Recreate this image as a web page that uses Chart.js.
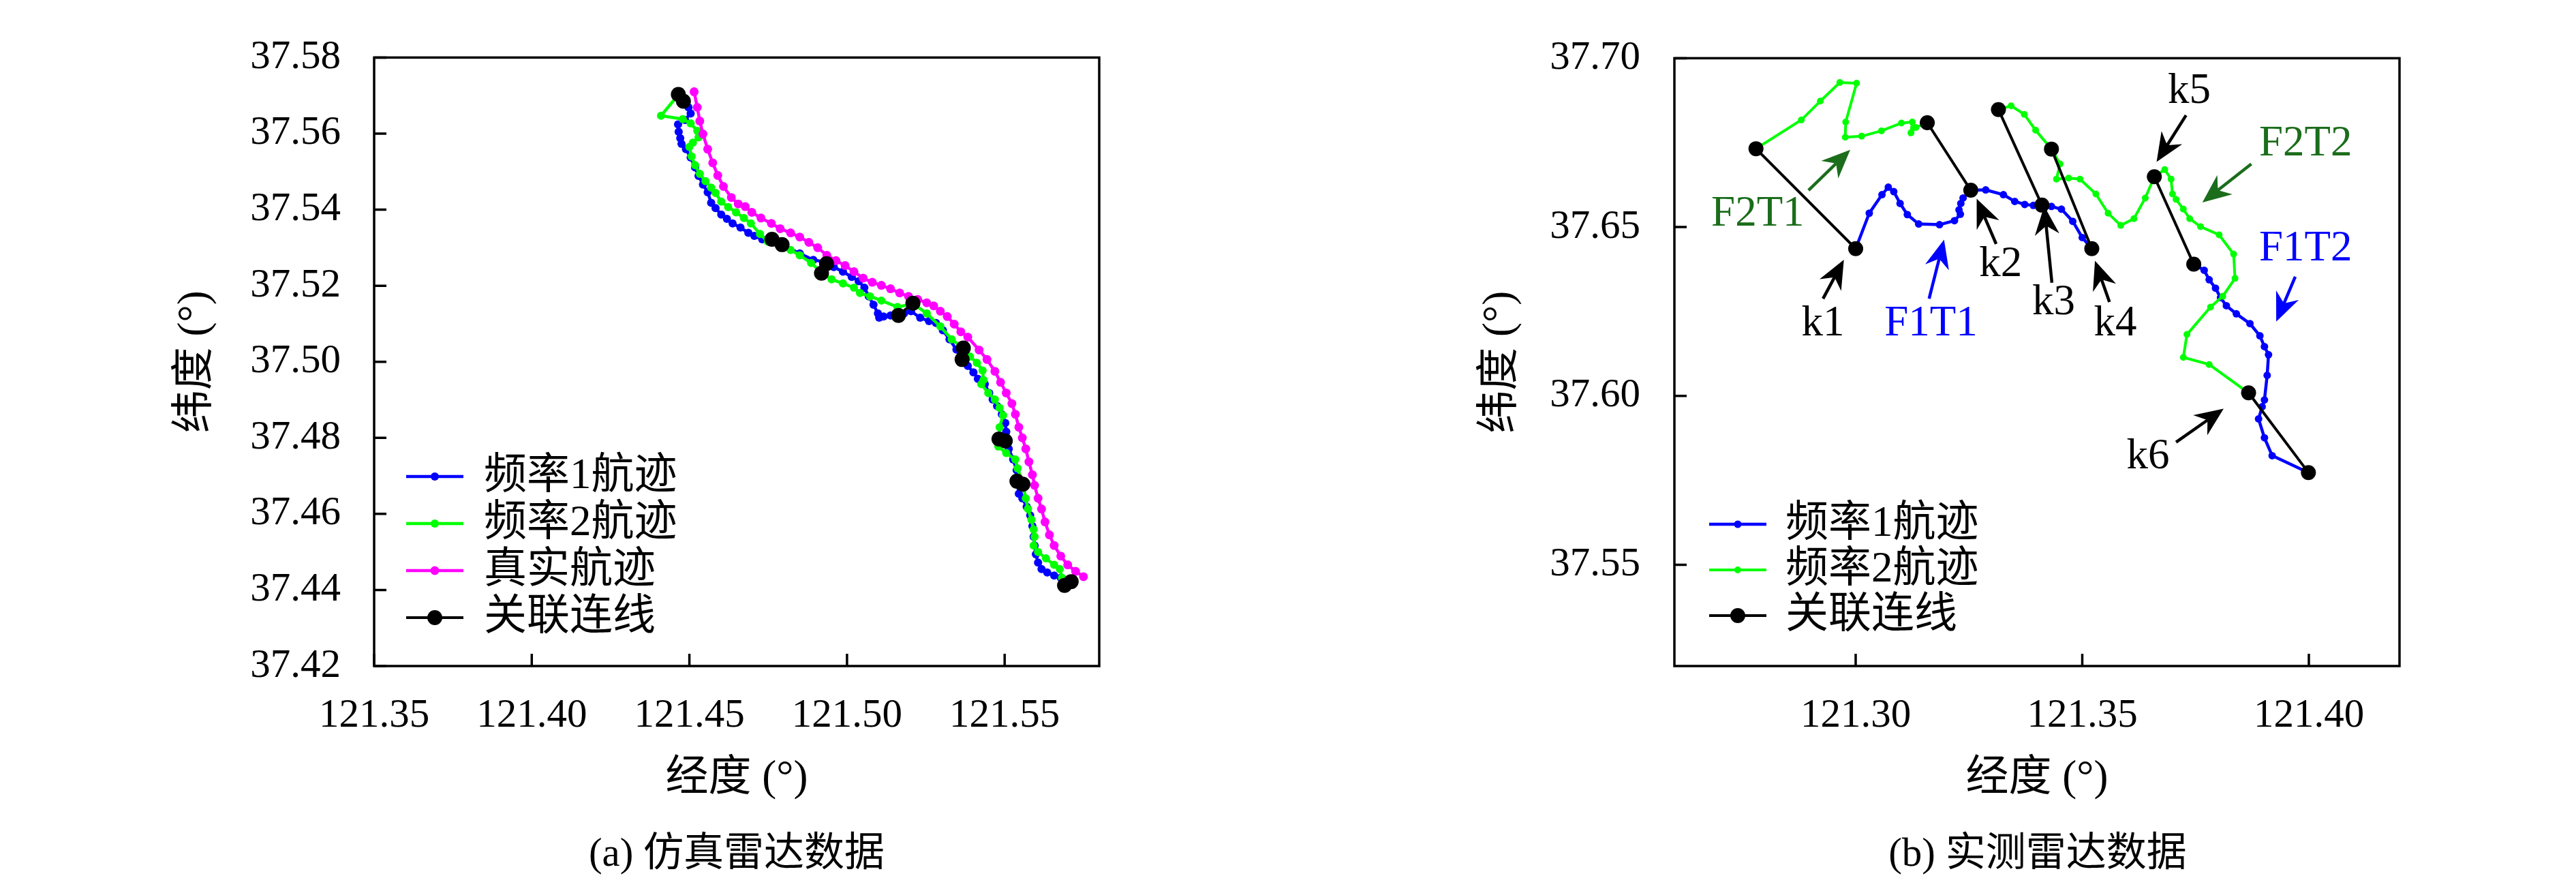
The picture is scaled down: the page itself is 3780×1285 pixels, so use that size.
<!DOCTYPE html>
<html>
<head>
<meta charset="utf-8">
<script src="https://cdn.jsdelivr.net/npm/chart.js@4.4.1/dist/chart.umd.min.js"></script>
<style>
  html, body { margin: 0; padding: 0; background: #fff; }
  #page { position: relative; width: 3780px; height: 1285px; background: #fff; overflow: hidden; }
  .box { position: absolute; top: 0; width: 1890px; height: 1200px; }
  .cap { position: absolute; top: 1205px; width: 900px; height: 90px; line-height: 90px; text-align: center;
         font-size: 59px; font-family: 'Liberation Serif', 'Noto Sans CJK SC', serif; color: #000; }
</style>
</head>
<body>
<div id="page">
  <div class="box" style="left:0"><canvas id="simChart"></canvas></div>
  <div class="box" style="left:1890px"><canvas id="realChart"></canvas></div>
  <div class="cap" style="left:631px">(a) 仿真雷达数据</div>
  <div class="cap" style="left:2540px">(b) 实测雷达数据</div>
</div>
<script>
// ---- (a) simulated radar data ----
const xTicksA = [121.35, 121.40, 121.45, 121.50, 121.55];
const yTicksA = [37.42, 37.44, 37.46, 37.48, 37.50, 37.52, 37.54, 37.56, 37.58];

const lonTrueA = [121.4515, 121.4525, 121.4533, 121.4543, 121.4558, 121.4574, 121.4590, 121.4608, 121.4633, 121.4655,
  121.4677, 121.4698, 121.4727, 121.4760, 121.4788, 121.4821, 121.4850, 121.4879, 121.4907, 121.4936,
  121.4965, 121.4994, 121.5022, 121.5051, 121.5080, 121.5109, 121.5138, 121.5167, 121.5195, 121.5224,
  121.5253, 121.5275, 121.5296, 121.5318, 121.5340, 121.5361, 121.5383, 121.5419, 121.5444, 121.5469,
  121.5487, 121.5505, 121.5523, 121.5534, 121.5545, 121.5556, 121.5567, 121.5577, 121.5588, 121.5595,
  121.5606, 121.5617, 121.5628, 121.5642, 121.5657, 121.5678, 121.5700, 121.5725, 121.5750];
const latTrueA = [37.5710, 37.5669, 37.5633, 37.5599, 37.5559, 37.5523, 37.5490, 37.5461, 37.5432, 37.5415,
  37.5408, 37.5393, 37.5378, 37.5364, 37.5350, 37.5339, 37.5328, 37.5314, 37.5300, 37.5280,
  37.5266, 37.5253, 37.5237, 37.5220, 37.5209, 37.5201, 37.5192, 37.5181, 37.5172, 37.5164,
  37.5155, 37.5147, 37.5133, 37.5119, 37.5099, 37.5079, 37.5065, 37.5031, 37.5006, 37.4975,
  37.4946, 37.4918, 37.4890, 37.4862, 37.4828, 37.4800, 37.4771, 37.4737, 37.4703, 37.4675,
  37.4641, 37.4613, 37.4579, 37.4545, 37.4517, 37.4489, 37.4466, 37.4449, 37.4435];

const lonF1A = [121.4481, 121.4497, 121.4504, 121.4486, 121.4464, 121.4466, 121.4471, 121.4475, 121.4489, 121.4504,
  121.4518, 121.4529, 121.4543, 121.4558, 121.4569, 121.4583, 121.4601, 121.4619, 121.4637, 121.4662,
  121.4687, 121.4706, 121.4731, 121.4762, 121.4792, 121.4850, 121.4893, 121.4933, 121.4958, 121.4987,
  121.5015, 121.5037, 121.5055, 121.5069, 121.5084, 121.5098, 121.5102, 121.5116, 121.5138, 121.5163,
  121.5181, 121.5203, 121.5232, 121.5260, 121.5282, 121.5304, 121.5325, 121.5347, 121.5365, 121.5383,
  121.5401, 121.5415, 121.5437, 121.5451, 121.5462, 121.5476, 121.5491, 121.5502, 121.5505, 121.5502,
  121.5513, 121.5527, 121.5538, 121.5539, 121.5545, 121.5556, 121.5570, 121.5581, 121.5588, 121.5592,
  121.5595, 121.5599, 121.5606, 121.5617, 121.5635, 121.5657, 121.5678, 121.5700];
const latF1A = [37.5684, 37.5669, 37.5653, 37.5636, 37.5624, 37.5605, 37.5588, 37.5573, 37.5559, 37.5537,
  37.5511, 37.5489, 37.5466, 37.5446, 37.5418, 37.5404, 37.5387, 37.5376, 37.5364, 37.5353,
  37.5339, 37.5331, 37.5322, 37.5322, 37.5308, 37.5285, 37.5268, 37.5262, 37.5249, 37.5237,
  37.5223, 37.5212, 37.5195, 37.5172, 37.5150, 37.5127, 37.5116, 37.5119, 37.5122, 37.5122,
  37.5127, 37.5133, 37.5116, 37.5107, 37.5102, 37.5083, 37.5059, 37.5032, 37.5006, 37.4989,
  37.4972, 37.4955, 37.4941, 37.4918, 37.4901, 37.4884, 37.4862, 37.4839, 37.4816, 37.4792,
  37.4771, 37.4743, 37.4715, 37.4686, 37.4653, 37.4641, 37.4619, 37.4596, 37.4568, 37.4540,
  37.4517, 37.4494, 37.4472, 37.4455, 37.4446, 37.4438, 37.4432, 37.4418];

const lonF2A = [121.4466, 121.4410, 121.4479, 121.4504, 121.4525, 121.4529, 121.4511, 121.4500, 121.4507, 121.4518,
  121.4533, 121.4551, 121.4569, 121.4583, 121.4601, 121.4623, 121.4648, 121.4673, 121.4695, 121.4724,
  121.4749, 121.4794, 121.4821, 121.4850, 121.4886, 121.4920, 121.4951, 121.4987, 121.5022, 121.5041,
  121.5073, 121.5109, 121.5160, 121.5210, 121.5253, 121.5296, 121.5332, 121.5369, 121.5390, 121.5412,
  121.5430, 121.5433, 121.5426, 121.5448, 121.5469, 121.5484, 121.5495, 121.5484, 121.5482, 121.5480,
  121.5505, 121.5534, 121.5541, 121.5558, 121.5567, 121.5574, 121.5585, 121.5592, 121.5595, 121.5592,
  121.5606, 121.5631, 121.5657, 121.5675, 121.5682, 121.5711];
const latF2A = [37.5703, 37.5647, 37.5638, 37.5627, 37.5607, 37.5590, 37.5576, 37.5565, 37.5540, 37.5517,
  37.5494, 37.5475, 37.5458, 37.5444, 37.5421, 37.5407, 37.5393, 37.5378, 37.5364, 37.5336,
  37.5316, 37.5308, 37.5294, 37.5280, 37.5260, 37.5234, 37.5217, 37.5206, 37.5195, 37.5181,
  37.5172, 37.5161, 37.5144, 37.5153, 37.5127, 37.5093, 37.5059, 37.5036, 37.5014, 37.4997,
  37.4977, 37.4952, 37.4941, 37.4918, 37.4901, 37.4879, 37.4859, 37.4828, 37.4797, 37.4777,
  37.4760, 37.4743, 37.4720, 37.4678, 37.4641, 37.4613, 37.4585, 37.4559, 37.4540, 37.4517,
  37.4500, 37.4483, 37.4466, 37.4455, 37.4432, 37.4422];

// association pairs, null separates the segments
const lonLinkA = [121.4465, 121.4481, null, 121.4762, 121.4794, null, 121.4935, 121.4919, null, 121.5163, 121.5209, null,
  121.5369, 121.5365, null, 121.5482, 121.5502, null, 121.5539, 121.5558, null, 121.5690, 121.5711];
const latLinkA = [37.5703, 37.5685, null, 37.5322, 37.5308, null, 37.5258, 37.5233, null, 37.5122, 37.5154, null,
  37.5036, 37.5006, null, 37.4797, 37.4792, null, 37.4686, 37.4678, null, 37.4412, 37.4422];

// ---- (b) measured radar data ----
const xTicksB = [121.30, 121.35, 121.40];
const yTicksB = [37.55, 37.60, 37.65, 37.70];

const lonF1B = [121.3000, 121.3030, 121.3058, 121.3072, 121.3084, 121.3098, 121.3114, 121.3139, 121.3185, 121.3218,
  121.3231, 121.3228, 121.3232, 121.3237, 121.3254, 121.3287, 121.3326, 121.3351, 121.3373, 121.3392,
  121.3411, 121.3432, 121.3454, 121.3479, 121.3500, 121.3521, null,
  121.3746, 121.3769, 121.3780, 121.3794, 121.3805, 121.3818, 121.3840, 121.3870, 121.3892, 121.3902,
  121.3911, 121.3908, 121.3902, 121.3897, 121.3889, 121.3902, 121.3919, 121.3999];
const latF1B = [37.6436, 37.6541, 37.6596, 37.6618, 37.6605, 37.6570, 37.6537, 37.6509, 37.6507, 37.6519,
  37.6538, 37.6551, 37.6570, 37.6586, 37.6609, 37.6610, 37.6596, 37.6576, 37.6567, 37.6564,
  37.6565, 37.6561, 37.6553, 37.6517, 37.6469, 37.6436, null,
  37.6390, 37.6372, 37.6344, 37.6319, 37.6291, 37.6267, 37.6243, 37.6214, 37.6178, 37.6146,
  37.6122, 37.6061, 37.5988, 37.5968, 37.5932, 37.5876, 37.5823, 37.5773];

const lonF2B = [121.2780, 121.2880, 121.2922, 121.2965, 121.3002, 121.2978, 121.2977, 121.3013, 121.3057, 121.3101,
  121.3125, 121.3122, 121.3133, 121.3158, null,
  121.3315, 121.3343, 121.3372, 121.3397, 121.3432, 121.3451, 121.3443, 121.3470, 121.3495, 121.3530,
  121.3557, 121.3585, 121.3614, 121.3639, 121.3659, 121.3682, 121.3696, 121.3699, 121.3707, 121.3723,
  121.3737, 121.3761, 121.3802, 121.3834, 121.3837, 121.3810, 121.3783, 121.3731, 121.3723, 121.3780, 121.3867];
const latF2B = [37.6732, 37.6817, 37.6873, 37.6928, 37.6926, 37.6811, 37.6766, 37.6769, 37.6785, 37.6808,
  37.6811, 37.6779, 37.6795, 37.6809, null,
  37.6848, 37.6859, 37.6834, 37.6787, 37.6731, 37.6687, 37.6642, 37.6645, 37.6642, 37.6598,
  37.6541, 37.6505, 37.6525, 37.6586, 37.6649, 37.6670, 37.6642, 37.6598, 37.6582, 37.6553,
  37.6525, 37.6501, 37.6477, 37.6420, 37.6348, 37.6295, 37.6263, 37.6182, 37.6114, 37.6093, 37.6009];

const lonLinkB = [121.2780, 121.3000, null, 121.3158, 121.3254, null, 121.3315, 121.3411, null,
  121.3432, 121.3521, null, 121.3659, 121.3746, null, 121.3867, 121.3999];
const latLinkB = [37.6732, 37.6436, null, 37.6809, 37.6609, null, 37.6848, 37.6565, null,
  37.6731, 37.6436, null, 37.6649, 37.6390, null, 37.6009, 37.5773];

// annotation labels and arrows of (b), in data coordinates
const noteText = ['F2T1', 'k1', 'F1T1', 'k2', 'k3', 'k4', 'k5', 'F2T2', 'F1T2', 'k6'];
const noteLon = [121.2784, 121.2928, 121.3166, 121.3320, 121.3437, 121.3573, 121.3736, 121.3993, 121.3993, 121.3645];
const noteLat = [37.6537, 37.6212, 37.6212, 37.6388, 37.6275, 37.6212, 37.6901, 37.6745, 37.6435, 37.5818];
const arrowFromLon = [121.2896, 121.2928, 121.3162, 121.3310, 121.3433, 121.3560, 121.3729, 121.3873, 121.3970, 121.3707];
const arrowFromLat = [37.6609, 37.6288, 37.6288, 37.6450, 37.6335, 37.6278, 37.6831, 37.6687, 37.6353, 37.5863];
const arrowToLon = [121.2988, 121.2974, 121.3195, 121.3267, 121.3416, 121.3528, 121.3664, 121.3765, 121.3928, 121.3812];
const arrowToLat = [37.6729, 37.6403, 37.6463, 37.6584, 37.6562, 37.6400, 37.6693, 37.6573, 37.6220, 37.5962];

const BLUE = '#0000ff', GREEN = '#00ff00', PINK = '#ff00ff', DARKGREEN = '#1b6d1b';
const noteColor = [DARKGREEN, '#000', BLUE, '#000', '#000', '#000', '#000', DARKGREEN, BLUE, '#000'];

const FONT = "'Liberation Serif', 'Noto Sans CJK SC', serif";

function pts(lon, lat) {
    return lon.map((x, i) => ({ x: x, y: lat[i] }));
}

function track(label, lon, lat, color, width, radius, order) {
    return {
        label: label,
        data: pts(lon, lat),
        showLine: true,
        spanGaps: false,
        borderColor: color,
        backgroundColor: color,
        pointBackgroundColor: color,
        pointBorderColor: color,
        borderWidth: width,
        pointRadius: radius,
        pointBorderWidth: 0,
        order: order
    };
}

// frame round the plot area plus small inward ticks on the left and bottom
const boxPlugin = {
    id: 'box',
    afterDraw(chart) {
        const { ctx, chartArea: a, scales } = chart;
        ctx.save();
        ctx.strokeStyle = '#000';
        ctx.lineWidth = 3.5;
        ctx.beginPath();
        scales.x.ticks.forEach(t => {
            const px = scales.x.getPixelForValue(t.value);
            ctx.moveTo(px, a.bottom);
            ctx.lineTo(px, a.bottom - 18);
        });
        scales.y.ticks.forEach(t => {
            const py = scales.y.getPixelForValue(t.value);
            ctx.moveTo(a.left, py);
            ctx.lineTo(a.left + 18, py);
        });
        ctx.stroke();
        ctx.strokeRect(a.left, a.top, a.right - a.left, a.bottom - a.top);
        ctx.restore();
    }
};

// legend drawn inside the plot, lower left
function keyPlugin(k) {
    return {
        id: 'key',
        afterDraw(chart) {
            const { ctx, chartArea: a } = chart;
            ctx.save();
            chart.data.datasets.forEach((d, i) => {
                const y = a.bottom - k.up + i * k.gap;
                const x0 = a.left + k.dx, x1 = x0 + 84;
                ctx.strokeStyle = d.borderColor;
                ctx.lineWidth = d.borderWidth;
                ctx.beginPath();
                ctx.moveTo(x0, y);
                ctx.lineTo(x1, y);
                ctx.stroke();
                ctx.fillStyle = d.pointBackgroundColor;
                ctx.beginPath();
                ctx.arc((x0 + x1) / 2, y, d.pointRadius, 0, Math.PI * 2);
                ctx.fill();
                ctx.fillStyle = '#000';
                ctx.font = '63px ' + FONT;
                ctx.textAlign = 'left';
                ctx.textBaseline = 'middle';
                ctx.fillText(d.label, a.left + k.tx, y);
            });
            ctx.restore();
        }
    };
}

// labels k1..k6 / F1T1.. with stealth arrows
const notesPlugin = {
    id: 'notes',
    afterDatasetsDraw(chart) {
        const { ctx, scales: { x, y } } = chart;
        ctx.save();
        noteText.forEach((t, i) => {
            const c = noteColor[i];
            const tx = x.getPixelForValue(arrowToLon[i]), ty = y.getPixelForValue(arrowToLat[i]);
            const fx = x.getPixelForValue(arrowFromLon[i]), fy = y.getPixelForValue(arrowFromLat[i]);
            const len = Math.hypot(tx - fx, ty - fy);
            const ux = (tx - fx) / len, uy = (ty - fy) / len;
            const nx = -uy, ny = ux;
            const L = 42, W = 18, notch = 13;
            ctx.strokeStyle = c;
            ctx.fillStyle = c;
            ctx.lineWidth = 4.5;
            ctx.beginPath();
            ctx.moveTo(fx, fy);
            ctx.lineTo(tx - (L - notch) * ux, ty - (L - notch) * uy);
            ctx.stroke();
            ctx.beginPath();
            ctx.moveTo(tx, ty);
            ctx.lineTo(tx - L * ux + W * nx, ty - L * uy + W * ny);
            ctx.lineTo(tx - (L - notch) * ux, ty - (L - notch) * uy);
            ctx.lineTo(tx - L * ux - W * nx, ty - L * uy - W * ny);
            ctx.closePath();
            ctx.fill();
            ctx.font = '63px ' + FONT;
            ctx.textAlign = 'center';
            ctx.textBaseline = 'middle';
            ctx.fillText(t, x.getPixelForValue(noteLon[i]), y.getPixelForValue(noteLat[i]));
        });
        ctx.restore();
    }
};

function makeChart(id, cfg) {
    const tickFont = { family: FONT, size: 59 };
    const titleFont = { family: FONT, size: 63 };
    return new Chart(document.getElementById(id), {
        type: 'scatter',
        data: { datasets: cfg.datasets },
        plugins: cfg.plugins,
        options: {
            responsive: true,
            maintainAspectRatio: false,
            animation: false,
            events: [],
            devicePixelRatio: 1,
            layout: { padding: { left: 0, top: 33, right: cfg.padRight, bottom: 0 } },
            plugins: { legend: { display: false }, tooltip: { enabled: false } },
            scales: {
                x: {
                    type: 'linear', min: cfg.xMin, max: cfg.xMax,
                    afterBuildTicks: s => { s.ticks = cfg.xTicks.map(v => ({ value: v })); },
                    afterFit: s => { s.height = 223; },
                    grid: { display: false, drawTicks: false },
                    border: { display: false },
                    ticks: { font: tickFont, color: '#000', padding: 38, maxRotation: 0, autoSkip: false,
                             callback: v => Number(v).toFixed(2) },
                    title: { display: true, text: '经度 (°)', color: '#000', font: titleFont, padding: { top: 0, bottom: 20 } }
                },
                y: {
                    type: 'linear', min: cfg.yMin, max: cfg.yMax,
                    afterBuildTicks: s => { s.ticks = cfg.yTicks.map(v => ({ value: v })); },
                    afterFit: s => { s.width = cfg.yWidth; },
                    grid: { display: false, drawTicks: false },
                    border: { display: false },
                    ticks: { font: tickFont, color: '#000', padding: cfg.yPad, autoSkip: false,
                             callback: v => Number(v).toFixed(2) },
                    title: { display: true, text: '纬度 (°)', color: '#000', font: titleFont, padding: { top: cfg.yTitlePad, bottom: 0 } }
                }
            }
        }
    });
}

makeChart('simChart', {
    xMin: 121.35, xMax: 121.58, yMin: 37.42, yMax: 37.58,
    xTicks: xTicksA, yTicks: yTicksA,
    padRight: 277, yWidth: 549, yPad: 49, yTitlePad: 250,
    datasets: [
        track('频率1航迹', lonF1A, latF1A, BLUE, 4.5, 6, 3),
        track('频率2航迹', lonF2A, latF2A, GREEN, 4.5, 6, 2),
        track('真实航迹', lonTrueA, latTrueA, PINK, 4.5, 6.5, 1),
        track('关联连线', lonLinkA, latLinkA, '#000', 4, 11, 0)
    ],
    plugins: [boxPlugin, keyPlugin({ up: 278, gap: 69, dx: 47, tx: 161 })]
});

makeChart('realChart', {
    xMin: 121.26, xMax: 121.42, yMin: 37.52, yMax: 37.70,
    xTicks: xTicksB, yTicks: yTicksB,
    padRight: 259, yWidth: 567, yPad: 50, yTitlePad: 275,
    datasets: [
        track('频率1航迹', lonF1B, latF1B, BLUE, 4.5, 5.5, 2),
        track('频率2航迹', lonF2B, latF2B, GREEN, 4, 5, 1),
        track('关联连线', lonLinkB, latLinkB, '#000', 4, 11, 0)
    ],
    plugins: [boxPlugin, notesPlugin, keyPlugin({ up: 208, gap: 67, dx: 51, tx: 163 })]
});
</script>
</body>
</html>
